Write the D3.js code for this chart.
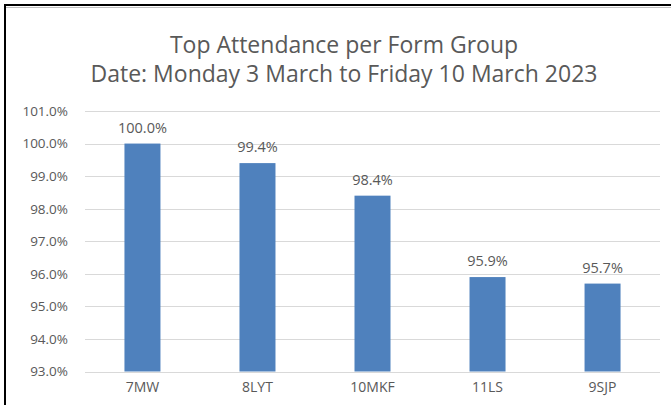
<!DOCTYPE html>
<html>
<head>
<meta charset="utf-8">
<script src="https://cdn.jsdelivr.net/npm/d3@7"></script>
<style>
  body { margin: 0; background: white; }
  text { font-family: "Open Sans", "Liberation Sans", sans-serif; fill: #595959; }
</style>
</head>
<body>
<div id="chart"></div>
<script>
  var groups = ["7MW", "8LYT", "10MKF", "11LS", "9SJP"];
  var attendance = [100.0, 99.4, 98.4, 95.9, 95.7];
  var yTicks = [93, 94, 95, 96, 97, 98, 99, 100, 101];
  var titleLines = ["Top Attendance per Form Group", "Date: Monday 3 March to Friday 10 March 2023"];

  var width = 671, height = 405;
  var data = groups.map(function (g, i) { return { group: g, value: attendance[i] }; });

  var svg = d3.select("#chart").append("svg")
    .attr("width", width)
    .attr("height", height);

  svg.append("rect").attr("width", width).attr("height", height).attr("fill", "white");

  // frame (top + left edges visible in the screenshot)
  svg.append("line").attr("x1", 4).attr("x2", width).attr("y1", 5).attr("y2", 5)
    .attr("stroke", "black").attr("stroke-width", 2);
  svg.append("line").attr("x1", 5).attr("x2", 5).attr("y1", 4).attr("y2", height)
    .attr("stroke", "black").attr("stroke-width", 2);
  svg.append("line").attr("x1", 6).attr("x2", width).attr("y1", 7.5).attr("y2", 7.5)
    .attr("stroke", "#bfbfbf").attr("stroke-width", 1);

  // title
  svg.selectAll(".title").data(titleLines).enter()
    .append("text")
    .attr("class", "title")
    .attr("x", 344)
    .attr("y", function (d, i) { return 53 + i * 29; })
    .attr("text-anchor", "middle")
    .attr("font-size", "23px")
    .text(function (d) { return d; });

  var x = d3.scaleBand().domain(groups).range([85, 660]).paddingInner(0.687).paddingOuter(0.343);
  var y = d3.scaleLinear().domain([93, 101]).range([371.5, 111]);

  // gridlines
  svg.append("g")
    .selectAll("line").data(yTicks).enter()
    .append("line")
    .attr("x1", 85).attr("x2", 660)
    .attr("y1", function (d) { return Math.round(y(d)) + 0.5; })
    .attr("y2", function (d) { return Math.round(y(d)) + 0.5; })
    .attr("stroke", "#d9d9d9").attr("stroke-width", 1);

  // y axis labels
  var yAxis = svg.append("g")
    .attr("transform", "translate(85,0)")
    .call(d3.axisLeft(y).tickValues(yTicks).tickSize(0).tickPadding(17)
      .tickFormat(function (d) { return d.toFixed(1) + "%"; }));
  yAxis.select(".domain").remove();
  yAxis.selectAll("text").attr("font-size", "13.5px").attr("fill", "#595959")
    .style("font-family", "'Open Sans', sans-serif");

  // x axis labels
  var xAxis = svg.append("g")
    .attr("transform", "translate(0," + y(93) + ")")
    .call(d3.axisBottom(x).tickSize(0).tickPadding(11));
  xAxis.select(".domain").remove();
  xAxis.selectAll("text").attr("font-size", "14px").attr("fill", "#595959")
    .style("font-family", "'Open Sans', sans-serif");

  // bars
  svg.selectAll(".bar").data(data).enter()
    .append("rect")
    .attr("class", "bar")
    .attr("x", function (d) { return x(d.group); })
    .attr("y", function (d) { return y(d.value); })
    .attr("width", x.bandwidth())
    .attr("height", function (d) { return y(93) - y(d.value); })
    .attr("fill", "#4f81bd");

  // value labels
  svg.selectAll(".val").data(data).enter()
    .append("text")
    .attr("class", "val")
    .attr("x", function (d) { return x(d.group) + x.bandwidth() / 2; })
    .attr("y", function (d) { return y(d.value) - 11; })
    .attr("text-anchor", "middle")
    .attr("font-size", "14.5px")
    .text(function (d) { return d.value.toFixed(1) + "%"; });
</script>
</body>
</html>
